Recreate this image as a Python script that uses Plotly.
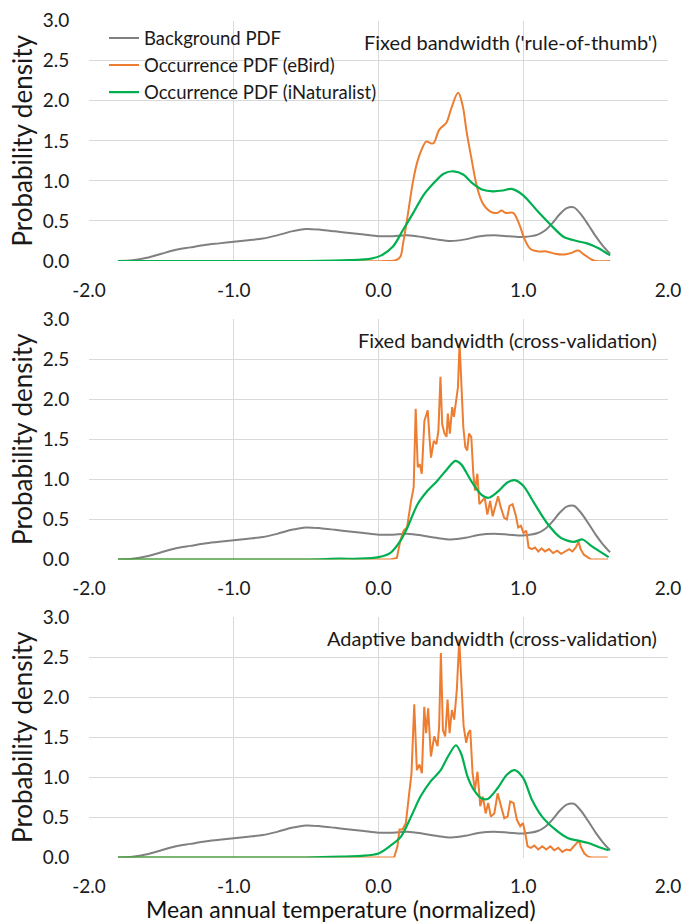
import plotly.graph_objects as go

# ---------------- data ----------------
bg_x = [-1.8, -1.7, -1.6, -1.5, -1.4, -1.3, -1.2, -1.1, -1.0, -0.9, -0.8, -0.7, -0.6, -0.5,
        -0.4, -0.3, -0.2, -0.1, 0.0, 0.1, 0.2, 0.3, 0.4, 0.5, 0.6, 0.7, 0.8, 0.9, 1.0, 1.1,
        1.15, 1.2, 1.25, 1.3, 1.35, 1.4, 1.45, 1.5, 1.55, 1.6]
bg_y = [0.0, 0.01, 0.04, 0.09, 0.14, 0.17, 0.20, 0.22, 0.24, 0.26, 0.28, 0.32, 0.37, 0.40,
        0.39, 0.37, 0.35, 0.33, 0.31, 0.31, 0.32, 0.30, 0.27, 0.25, 0.27, 0.31, 0.32, 0.31, 0.30, 0.33,
        0.38, 0.47, 0.58, 0.66, 0.67, 0.58, 0.45, 0.31, 0.19, 0.09]

ebird1_x = [-1.8, 0.05, 0.12, 0.15, 0.17, 0.2, 0.24, 0.27, 0.3, 0.33, 0.36, 0.38, 0.42, 0.47, 0.5,
            0.55, 0.58, 0.61, 0.64, 0.68, 0.72, 0.77, 0.82, 0.85, 0.88, 0.93, 0.97, 1.01, 1.05,
            1.1, 1.16, 1.22, 1.28, 1.33, 1.38, 1.42, 1.47, 1.5, 1.6]
ebird1_y = [0.0, 0.0, 0.01, 0.05, 0.22, 0.55, 1.01, 1.25, 1.4, 1.49, 1.47, 1.47, 1.64, 1.73, 1.89,
            2.1, 1.95, 1.6, 1.3, 0.93, 0.72, 0.62, 0.6, 0.63, 0.6, 0.6, 0.47, 0.27, 0.15,
            0.12, 0.12, 0.09, 0.08, 0.1, 0.13, 0.08, 0.02, 0.0, 0.0]

inat1_x = [-1.8, -1.0, -0.5, -0.2, -0.05, 0.02, 0.1, 0.17, 0.24, 0.31, 0.38, 0.45, 0.52, 0.585,
           0.65, 0.72, 0.79, 0.86, 0.92, 1.0, 1.1, 1.19, 1.28, 1.37, 1.44, 1.52, 1.6]
inat1_y = [0.0, 0.0, 0.0, 0.01, 0.03, 0.07, 0.18, 0.39, 0.6, 0.82, 0.97, 1.09, 1.12, 1.08,
           0.97, 0.89, 0.87, 0.88, 0.9, 0.82, 0.62, 0.45, 0.3, 0.25, 0.22, 0.16, 0.07]

ebird2_x = [-1.8, 0.081, 0.127, 0.15, 0.174, 0.197, 0.225, 0.243, 0.257, 0.271, 0.285, 0.299, 0.317,
            0.34, 0.354, 0.363, 0.382, 0.4, 0.414, 0.428, 0.44, 0.456, 0.47, 0.479, 0.493, 0.509,
            0.521, 0.535, 0.549, 0.56, 0.572, 0.586, 0.6, 0.613, 0.625, 0.641, 0.655, 0.667, 0.683,
            0.697, 0.715, 0.734, 0.752, 0.771, 0.789, 0.81, 0.826, 0.845, 0.868, 0.887, 0.905,
            0.926, 0.947, 0.965, 0.984, 1.002, 1.021, 1.037, 1.058, 1.081, 1.104, 1.127, 1.15,
            1.178, 1.206, 1.234, 1.262, 1.289, 1.317, 1.34, 1.363, 1.382, 1.396, 1.419, 1.442,
            1.47, 1.586]
ebird2_y = [0.0, 0.0, 0.02, 0.23, 0.36, 0.4, 0.73, 0.9, 1.88, 1.15, 1.19, 1.07, 1.73,
            1.86, 1.48, 1.27, 1.48, 1.44, 1.61, 2.28, 1.69, 1.57, 1.53, 1.82, 1.57, 1.9,
            1.78, 1.96, 2.15, 2.7, 2.15, 1.65, 1.4, 1.36, 1.57, 1.53, 1.07, 0.86, 1.07,
            0.69, 0.73, 0.77, 0.56, 0.73, 0.54, 0.67, 0.79, 0.65, 0.52, 0.5, 0.67,
            0.69, 0.56, 0.4, 0.42, 0.33, 0.36, 0.15, 0.13, 0.15, 0.1, 0.14, 0.1,
            0.13, 0.08, 0.11, 0.07, 0.1, 0.13, 0.1, 0.15, 0.22, 0.13, 0.06, 0.03,
            0.0, 0.0]

inat2_x = [-1.8, -0.5, -0.27, -0.13, 0.0, 0.08, 0.15, 0.2, 0.27, 0.34, 0.405, 0.475, 0.53, 0.57,
           0.64, 0.71, 0.76, 0.82, 0.89, 0.94, 1.0, 1.08, 1.17, 1.26, 1.35, 1.41, 1.47, 1.59]
inat2_y = [0.0, 0.0, 0.01, 0.01, 0.03, 0.08, 0.23, 0.4, 0.69, 0.86, 0.98, 1.13, 1.23, 1.19,
           0.98, 0.81, 0.77, 0.84, 0.96, 0.99, 0.92, 0.69, 0.44, 0.27, 0.22, 0.25, 0.17, 0.03]

ebird3_x = [-1.8, 0.108, 0.131, 0.145, 0.166, 0.189, 0.212, 0.228, 0.247, 0.265, 0.283, 0.3, 0.316,
            0.329, 0.343, 0.362, 0.385, 0.408, 0.419, 0.431, 0.445, 0.461, 0.477, 0.491, 0.507,
            0.523, 0.541, 0.558, 0.574, 0.588, 0.606, 0.62, 0.634, 0.65, 0.666, 0.684, 0.703,
            0.721, 0.74, 0.758, 0.776, 0.8, 0.823, 0.846, 0.869, 0.892, 0.91, 0.933, 0.956,
            0.979, 0.998, 1.014, 1.03, 1.053, 1.076, 1.104, 1.131, 1.159, 1.187, 1.214, 1.242,
            1.27, 1.297, 1.325, 1.353, 1.371, 1.385, 1.399, 1.422, 1.449, 1.472, 1.583]
ebird3_y = [0.0, 0.0, 0.14, 0.35, 0.35, 0.43, 0.8, 1.05, 1.91, 1.09, 1.16, 1.05, 1.88,
            1.55, 1.86, 1.26, 1.51, 1.39, 1.64, 2.55, 1.59, 1.51, 1.97, 1.55, 1.84,
            1.72, 2.09, 2.72, 2.13, 1.64, 1.43, 1.55, 1.59, 1.05, 0.84, 1.07, 0.64,
            0.76, 0.55, 0.68, 0.51, 0.55, 0.8, 0.66, 0.49, 0.51, 0.7, 0.68, 0.47,
            0.39, 0.43, 0.3, 0.14, 0.12, 0.15, 0.1, 0.14, 0.1, 0.14, 0.09, 0.12,
            0.07, 0.1, 0.09, 0.14, 0.18, 0.21, 0.13, 0.05, 0.01, 0.0, 0.0]

inat3_x = [-1.8, -0.5, -0.26, -0.12, 0.0, 0.085, 0.155, 0.225, 0.29, 0.36, 0.43, 0.48, 0.535, 0.57,
           0.615, 0.66, 0.71, 0.755, 0.825, 0.885, 0.94, 1.0, 1.06, 1.13, 1.22, 1.31, 1.38, 1.45,
           1.52, 1.59]
inat3_y = [0.0, 0.0, 0.01, 0.02, 0.05, 0.15, 0.26, 0.51, 0.76, 0.95, 1.09, 1.26, 1.4, 1.3,
           1.01, 0.84, 0.74, 0.73, 0.87, 1.03, 1.09, 0.99, 0.72, 0.51, 0.35, 0.24, 0.21, 0.18,
           0.13, 0.09]

series_names = ["Background PDF", "Occurrence PDF (eBird)", "Occurrence PDF (iNaturalist)"]
panel_titles = ["Fixed bandwidth ('rule-of-thumb')", "Fixed bandwidth (cross-validation)",
                "Adaptive bandwidth (cross-validation)"]
x_tickvals = [-2.0, -1.0, 0.0, 1.0, 2.0]
x_ticktext = ["-2.0", "-1.0", "0.0", "1.0", "2.0"]
y_tickvals = [0.0, 0.5, 1.0, 1.5, 2.0, 2.5, 3.0]
y_ticktext = ["0.0", "0.5", "1.0", "1.5", "2.0", "2.5", "3.0"]
x_title = "Mean annual temperature (normalized)"
y_title = "Probability density"

# ---------------- layout ----------------
W, H = 684, 922
ML, MR, MT, MB = 89, 16, 20, 64
PH = H - MT - MB
PW = W - ML - MR
panels_px = [(20.7, 261.0), (319.0, 559.5), (617.0, 857.5)]

def dom(top, bot):
    return [(H - MB - bot) / PH, (H - MB - top) / PH]

FONT = "Lato"
C_GREY, C_ORANGE, C_GREEN = "#808080", "#ED7D31", "#00B050"
GRID = "#D9D9D9"
TXT = "#1a1a1a"

fig = go.Figure()
panel_data = [
    (ebird1_x, ebird1_y, inat1_x, inat1_y, "spline"),
    (ebird2_x, ebird2_y, inat2_x, inat2_y, "linear"),
    (ebird3_x, ebird3_y, inat3_x, inat3_y, "linear"),
]
for i, (ex, ey, ix, iy, eshape) in enumerate(panel_data):
    xa = "x" if i == 0 else f"x{i+1}"
    ya = "y" if i == 0 else f"y{i+1}"
    show = (i == 0)
    fig.add_trace(go.Scatter(x=bg_x, y=bg_y, mode="lines", name=series_names[0],
                             line=dict(color=C_GREY, width=2, shape="spline", smoothing=0.8),
                             xaxis=xa, yaxis=ya, showlegend=show, legendgroup="g1"))
    fig.add_trace(go.Scatter(x=ex, y=ey, mode="lines", name=series_names[1],
                             line=dict(color=C_ORANGE, width=2, shape=eshape),
                             xaxis=xa, yaxis=ya, showlegend=show, legendgroup="g2"))
    fig.add_trace(go.Scatter(x=ix, y=iy, mode="lines", name=series_names[2],
                             line=dict(color=C_GREEN, width=2.2, shape="spline", smoothing=0.8),
                             xaxis=xa, yaxis=ya, showlegend=show, legendgroup="g3"))

layout = dict(
    width=W, height=H,
    margin=dict(l=ML, r=MR, t=MT, b=MB, autoexpand=False),
    paper_bgcolor="white", plot_bgcolor="white",
    font=dict(family=FONT, size=19, color=TXT),
    showlegend=True,
    legend=dict(x=15.0 / PW, y=1.0 + 0.5 / PH, xanchor="left", yanchor="top",
                bgcolor="rgba(0,0,0,0)",
                traceorder="grouped", tracegroupgap=0, font=dict(size=18.5, color=TXT)),
    annotations=[],
)
for i, (top, bot) in enumerate(panels_px):
    sfx = "" if i == 0 else str(i + 1)
    layout["xaxis" + sfx] = dict(
        domain=[0, 1], range=[-2.0, 2.0], anchor="y" + sfx, automargin=False,
        tickvals=x_tickvals, ticktext=x_ticktext,
        showgrid=True, gridcolor=GRID, gridwidth=1, zeroline=False,
        showline=False, ticks="outside", ticklen=12, tickcolor="rgba(0,0,0,0)",
        tickfont=dict(size=19, color=TXT), fixedrange=True,
    )
    layout["yaxis" + sfx] = dict(
        domain=dom(top, bot), range=[0, 3.0], anchor="x" + sfx, automargin=False,
        tickvals=y_tickvals, ticktext=y_ticktext,
        showgrid=True, gridcolor=GRID, gridwidth=1, zeroline=False,
        showline=False, ticks="outside", ticklen=15, tickcolor="rgba(0,0,0,0)",
        tickfont=dict(size=19, color=TXT), fixedrange=True,
        title=dict(text=y_title, font=dict(size=26, color=TXT), standoff=2),
    )
    layout["annotations"].append(dict(
        text=panel_titles[i], xref="x" + sfx + " domain", yref="y" + sfx + " domain",
        x=(659 - ML) / PW, y=1 - (21 / (bot - top)),
        xanchor="right", yanchor="middle", showarrow=False,
        font=dict(size=20, color=TXT),
    ))
layout["annotations"].append(dict(
    text=x_title, xref="paper", yref="paper",
    x=(341 - ML) / PW, y=-(909 - (H - MB)) / PH,
    xanchor="center", yanchor="middle", showarrow=False,
    font=dict(size=23, color="#111111"),
))
fig.update_layout(**layout)
fig.write_html("out.html", config={"displayModeBar": False},
               post_script="document.body.style.margin='0';document.body.style.overflow='hidden';")
